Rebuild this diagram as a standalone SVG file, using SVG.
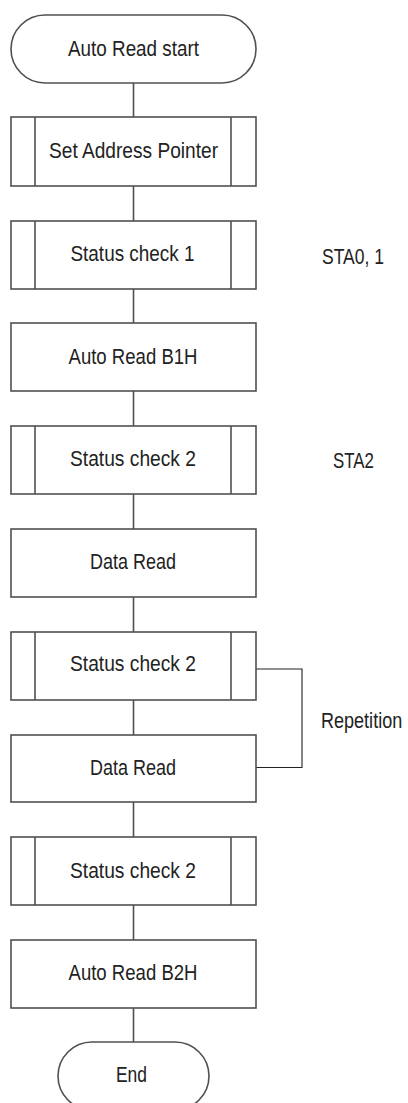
<svg xmlns="http://www.w3.org/2000/svg" width="408" height="1103" viewBox="0 0 408 1103">
<style>
.box{fill:#fff;stroke:#505050;stroke-width:1.6}
.inner{stroke:#505050;stroke-width:1.6;fill:none}
.conn{stroke:#505050;stroke-width:1.6;fill:none}
.br{stroke:#222;stroke-width:1.1;fill:none}
text{font-family:"Liberation Sans",Arial,sans-serif;font-size:22px;fill:#222}
.c{text-anchor:middle}
</style>
<rect width="408" height="1103" fill="#fff"/>
<g id="connectors">
<line class="conn" x1="133.5" y1="83" x2="133.5" y2="117"/>
<line class="conn" x1="133.5" y1="186" x2="133.5" y2="221"/>
<line class="conn" x1="133.5" y1="289" x2="133.5" y2="323"/>
<line class="conn" x1="133.5" y1="391" x2="133.5" y2="426"/>
<line class="conn" x1="133.5" y1="494" x2="133.5" y2="529"/>
<line class="conn" x1="133.5" y1="597" x2="133.5" y2="632"/>
<line class="conn" x1="133.5" y1="700" x2="133.5" y2="735"/>
<line class="conn" x1="133.5" y1="802" x2="133.5" y2="837"/>
<line class="conn" x1="133.5" y1="905" x2="133.5" y2="940"/>
<line class="conn" x1="133.5" y1="1008" x2="133.5" y2="1042"/>
<polyline class="br" points="256,669 302,669 302,767.5 256,767.5"/>
</g>
<g id="start">
<rect class="box" x="11" y="15" width="245" height="68" rx="34" ry="34"/>
<text class="c" x="133.5" y="56" textLength="131" lengthAdjust="spacingAndGlyphs">Auto Read start</text>
</g>
<g id="set-address-pointer">
<rect class="box" x="11" y="117" width="245" height="69"/>
<line class="inner" x1="35" y1="117" x2="35" y2="186"/>
<line class="inner" x1="231" y1="117" x2="231" y2="186"/>
<text class="c" x="133.5" y="158" textLength="169" lengthAdjust="spacingAndGlyphs">Set Address Pointer</text>
</g>
<g id="status-check-1">
<rect class="box" x="11" y="221" width="245" height="68"/>
<line class="inner" x1="35" y1="221" x2="35" y2="289"/>
<line class="inner" x1="231" y1="221" x2="231" y2="289"/>
<text class="c" x="132.5" y="260.5" textLength="124" lengthAdjust="spacingAndGlyphs">Status check 1</text>
</g>
<g id="auto-read-b1h">
<rect class="box" x="11" y="323" width="245" height="68"/>
<text class="c" x="133" y="363.5" textLength="129" lengthAdjust="spacingAndGlyphs">Auto Read B1H</text>
</g>
<g id="status-check-2a">
<rect class="box" x="11" y="426" width="245" height="68"/>
<line class="inner" x1="35" y1="426" x2="35" y2="494"/>
<line class="inner" x1="231" y1="426" x2="231" y2="494"/>
<text class="c" x="133" y="466" textLength="126" lengthAdjust="spacingAndGlyphs">Status check 2</text>
</g>
<g id="data-read-1">
<rect class="box" x="11" y="529" width="245" height="68"/>
<text class="c" x="133" y="568.5" textLength="86" lengthAdjust="spacingAndGlyphs">Data Read</text>
</g>
<g id="status-check-2b">
<rect class="box" x="11" y="632" width="245" height="68"/>
<line class="inner" x1="35" y1="632" x2="35" y2="700"/>
<line class="inner" x1="231" y1="632" x2="231" y2="700"/>
<text class="c" x="133" y="671" textLength="126" lengthAdjust="spacingAndGlyphs">Status check 2</text>
</g>
<g id="data-read-2">
<rect class="box" x="11" y="735" width="245" height="67"/>
<text class="c" x="133" y="775" textLength="86" lengthAdjust="spacingAndGlyphs">Data Read</text>
</g>
<g id="status-check-2c">
<rect class="box" x="11" y="837" width="245" height="68"/>
<line class="inner" x1="35" y1="837" x2="35" y2="905"/>
<line class="inner" x1="231" y1="837" x2="231" y2="905"/>
<text class="c" x="133" y="877.5" textLength="126" lengthAdjust="spacingAndGlyphs">Status check 2</text>
</g>
<g id="auto-read-b2h">
<rect class="box" x="11" y="940" width="245" height="68"/>
<text class="c" x="133" y="980" textLength="129" lengthAdjust="spacingAndGlyphs">Auto Read B2H</text>
</g>
<g id="end">
<rect class="box" x="58" y="1042" width="151" height="68" rx="34" ry="34"/>
<text class="c" x="131.5" y="1082" textLength="31" lengthAdjust="spacingAndGlyphs">End</text>
</g>
<g id="labels">
<text class="c" x="353" y="264" textLength="62" lengthAdjust="spacingAndGlyphs">STA0, 1</text>
<text class="c" x="353.5" y="468" textLength="41" lengthAdjust="spacingAndGlyphs">STA2</text>
<text transform="translate(321,728) scale(0.82,1)" x="0" y="0">Repetition</text>
</g>
</svg>
